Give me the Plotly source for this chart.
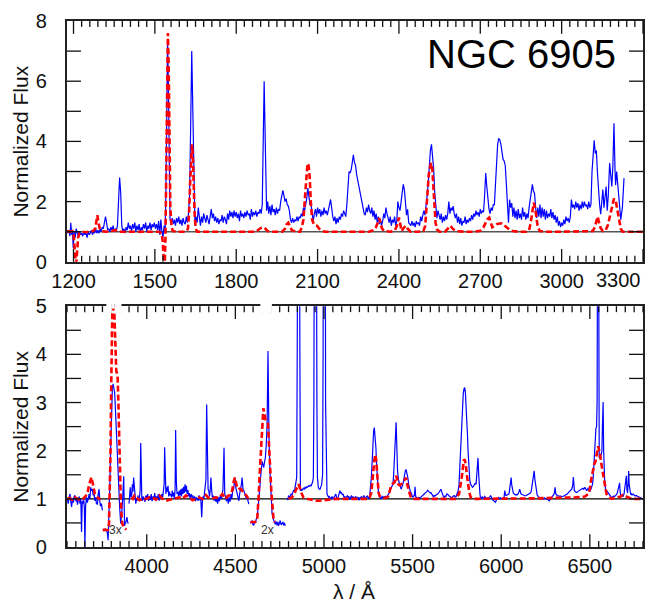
import plotly.graph_objects as go

# ---------------- data: top panel (UV) ----------------
TOP_BLUE = [
    (1178, 0.95), (1183, 1.05), (1187, 0.85), (1190, 1.3), (1193, 0.9), (1196, 1.05), (1199, 0.45),
    (1202, 1.0), (1206, 0.8), (1210, 1.1), (1214, 0.95), (1218, 0.85), (1222, 1.0), (1226, 0.9),
    (1230, 0.95), (1234, 0.85), (1238, 1.0), (1242, 0.9), (1246, 0.95), (1250, 0.8), (1254, 1.0),
    (1258, 0.9), (1262, 0.95), (1266, 1.05), (1270, 0.9), (1274, 1.0), (1278, 0.95), (1282, 1.1),
    (1286, 0.95), (1290, 1.05), (1294, 0.95), (1298, 1.1), (1302, 1.0), (1306, 1.15), (1310, 1.1),
    (1314, 1.3), (1318, 1.5), (1322, 1.3), (1326, 1.05), (1330, 1.1), (1334, 1.0), (1338, 1.15),
    (1342, 1.05), (1346, 1.2), (1350, 1.0), (1354, 1.1), (1358, 1.05), (1362, 1.2), (1366, 2.4),
    (1370, 2.8), (1374, 2.3), (1378, 1.2), (1382, 1.0), (1386, 1.1), (1390, 0.95), (1394, 1.15),
    (1398, 1.05), (1402, 1.3), (1406, 1.1), (1410, 1.2), (1414, 1.0), (1418, 1.25), (1422, 1.1),
    (1426, 1.3), (1430, 1.0), (1434, 1.2), (1438, 1.05), (1442, 1.25), (1446, 0.95), (1450, 1.15),
    (1454, 1.05), (1458, 1.25), (1462, 1.1), (1466, 1.3), (1470, 1.0), (1474, 1.2), (1478, 1.1),
    (1482, 1.3), (1486, 1.05), (1490, 1.25), (1494, 1.15), (1498, 1.3), (1502, 1.1), (1506, 1.25),
    (1510, 1.05), (1514, 1.35), (1518, 0.9), (1522, 1.4), (1526, 1.0), (1530, 0.8), (1534, 1.2),
    (1538, 1.0), (1541, 2.5), (1544, 5.5), (1547, 7.4), (1550, 5.8), (1553, 2.5), (1556, 1.4),
    (1560, 1.3), (1564, 1.45), (1568, 1.25), (1572, 1.4), (1576, 1.2), (1580, 1.45), (1584, 1.3),
    (1588, 1.5), (1592, 1.25), (1596, 1.4), (1600, 1.2), (1604, 1.45), (1608, 1.3), (1612, 1.25),
    (1616, 1.5), (1620, 1.3), (1624, 1.6), (1628, 2.2), (1632, 4.5), (1636, 7.0), (1640, 5.0),
    (1644, 2.3), (1648, 1.2), (1652, 1.5), (1656, 1.3), (1660, 1.8), (1664, 1.4), (1668, 1.2),
    (1672, 1.5), (1676, 1.3), (1680, 1.6), (1684, 1.4), (1688, 1.3), (1692, 1.55), (1696, 1.4),
    (1700, 1.25), (1704, 1.5), (1708, 1.75), (1712, 1.45), (1716, 1.6), (1720, 1.35), (1724, 1.5),
    (1728, 1.3), (1732, 1.45), (1736, 1.25), (1740, 1.4), (1744, 1.35), (1748, 1.55), (1752, 1.3),
    (1756, 1.5), (1760, 1.4), (1764, 1.25), (1768, 1.6), (1772, 1.4), (1776, 1.7), (1780, 1.5),
    (1784, 1.65), (1788, 1.45), (1792, 1.7), (1796, 1.5), (1800, 1.65), (1804, 1.45), (1808, 1.6),
    (1812, 1.35), (1816, 1.7), (1820, 1.5), (1824, 1.6), (1828, 1.45), (1832, 1.65), (1836, 1.5),
    (1840, 1.7), (1844, 1.55), (1848, 1.6), (1852, 1.4), (1856, 1.75), (1860, 1.5), (1864, 1.65),
    (1868, 1.55), (1872, 1.7), (1876, 1.5), (1880, 1.65), (1884, 1.6), (1888, 1.75), (1892, 1.6),
    (1896, 1.9), (1900, 3.7), (1903, 6.0), (1906, 4.5), (1909, 1.9), (1912, 1.7), (1916, 2.0),
    (1920, 1.6), (1924, 1.85), (1928, 1.55), (1932, 1.9), (1936, 1.65), (1940, 1.75), (1944, 1.55),
    (1948, 1.8), (1952, 1.6), (1956, 1.75), (1960, 1.7), (1964, 2.0), (1968, 2.15), (1972, 2.37),
    (1976, 2.2), (1980, 2.0), (1984, 2.1), (1988, 1.9), (1992, 1.85), (1996, 1.7), (2000, 1.4),
    (2004, 1.3), (2008, 1.45), (2012, 1.3), (2016, 1.4), (2020, 1.35), (2024, 1.5), (2028, 1.35),
    (2032, 1.5), (2036, 1.45), (2040, 1.6), (2044, 1.5), (2048, 1.8), (2052, 1.7), (2056, 1.9),
    (2060, 2.1), (2064, 2.45), (2068, 2.2), (2072, 1.9), (2076, 1.9), (2080, 1.6), (2084, 1.35),
    (2088, 1.6), (2092, 1.75), (2096, 1.5), (2100, 1.8), (2104, 1.6), (2108, 1.75), (2112, 1.5),
    (2116, 1.7), (2120, 1.55), (2124, 1.8), (2128, 1.6), (2132, 1.7), (2136, 1.55), (2140, 1.8),
    (2144, 1.9), (2148, 2.07), (2152, 1.7), (2156, 1.5), (2160, 1.35), (2164, 1.5), (2168, 1.25),
    (2172, 1.45), (2176, 1.3), (2180, 1.5), (2184, 1.4), (2188, 1.6), (2192, 1.5), (2196, 1.7),
    (2200, 1.6), (2204, 1.5), (2208, 1.9), (2212, 2.5), (2216, 3.0), (2220, 2.95), (2224, 3.06),
    (2228, 3.3), (2232, 3.55), (2236, 3.3), (2240, 3.2), (2244, 2.9), (2248, 2.7), (2252, 2.5),
    (2256, 2.3), (2260, 2.1), (2264, 1.9), (2268, 1.75), (2272, 1.6), (2276, 1.55), (2280, 1.8),
    (2284, 1.65), (2288, 1.9), (2292, 1.7), (2296, 1.6), (2300, 1.8), (2304, 1.5), (2308, 1.7),
    (2312, 1.4), (2316, 1.6), (2320, 1.3), (2324, 1.5), (2328, 1.25), (2332, 1.4), (2336, 1.2),
    (2340, 1.35), (2344, 1.6), (2348, 1.45), (2352, 1.8), (2356, 1.6), (2360, 1.4), (2364, 1.3),
    (2368, 1.5), (2372, 1.2), (2376, 1.4), (2380, 1.3), (2384, 1.5), (2388, 1.2), (2392, 1.35),
    (2396, 2.0), (2400, 1.8), (2404, 1.7), (2408, 2.0), (2412, 2.3), (2416, 2.57), (2420, 2.4),
    (2424, 2.0), (2428, 1.55), (2432, 1.74), (2436, 1.3), (2440, 1.25), (2444, 1.2), (2448, 1.35),
    (2452, 1.2), (2456, 1.3), (2460, 1.15), (2464, 1.35), (2468, 1.25), (2472, 1.3), (2476, 1.2),
    (2480, 1.5), (2484, 1.35), (2488, 1.55), (2492, 1.7), (2496, 1.55), (2500, 1.8), (2504, 2.2),
    (2508, 2.6), (2512, 3.3), (2516, 3.7), (2520, 3.9), (2524, 3.5), (2528, 3.1), (2532, 2.3),
    (2536, 1.9), (2540, 1.45), (2544, 1.7), (2548, 1.5), (2552, 1.4), (2556, 1.6), (2560, 1.3),
    (2564, 1.5), (2568, 1.35), (2572, 1.55), (2576, 1.4), (2580, 1.6), (2584, 2.0), (2588, 1.6),
    (2592, 1.8), (2596, 1.7), (2600, 1.85), (2604, 1.6), (2608, 1.45), (2612, 1.6), (2616, 1.3),
    (2620, 1.5), (2624, 1.25), (2628, 1.45), (2632, 1.2), (2636, 1.35), (2640, 1.3), (2644, 1.5),
    (2648, 1.25), (2652, 1.4), (2656, 1.3), (2660, 1.45), (2664, 1.35), (2668, 1.55), (2672, 1.4),
    (2676, 1.6), (2680, 1.5), (2684, 1.7), (2688, 1.55), (2692, 1.65), (2696, 1.5), (2700, 1.75),
    (2704, 1.6), (2708, 1.7), (2712, 1.65), (2716, 2.2), (2720, 2.95), (2724, 2.5), (2728, 2.0),
    (2732, 1.75), (2736, 1.6), (2740, 1.8), (2744, 1.7), (2748, 1.9), (2752, 1.9), (2756, 2.6),
    (2760, 3.44), (2764, 3.9), (2768, 4.1), (2772, 4.05), (2776, 3.9), (2780, 3.6), (2784, 3.4),
    (2788, 3.35), (2792, 3.2), (2796, 2.6), (2800, 1.8), (2804, 1.3), (2808, 2.07), (2812, 1.8),
    (2816, 1.95), (2820, 1.5), (2824, 1.8), (2828, 1.45), (2832, 1.7), (2836, 1.4), (2840, 1.75),
    (2844, 1.45), (2848, 1.6), (2852, 1.4), (2856, 1.8), (2860, 1.5), (2864, 1.65), (2868, 1.4),
    (2872, 1.6), (2876, 1.45), (2880, 1.8), (2884, 2.1), (2888, 2.4), (2892, 2.57), (2896, 2.35),
    (2900, 2.28), (2904, 1.8), (2908, 1.46), (2912, 1.8), (2916, 1.5), (2920, 1.9), (2924, 1.45),
    (2928, 1.8), (2932, 1.5), (2936, 1.75), (2940, 1.4), (2944, 1.7), (2948, 1.45), (2952, 1.6),
    (2956, 1.5), (2960, 1.75), (2964, 1.45), (2968, 1.65), (2972, 1.4), (2976, 1.55), (2980, 1.3),
    (2984, 1.5), (2988, 1.2), (2992, 1.35), (2996, 1.15), (3000, 1.3), (3004, 1.2), (3008, 1.4),
    (3012, 1.25), (3016, 1.5), (3020, 1.35), (3024, 1.45), (3028, 1.3), (3032, 1.5), (3036, 2.07),
    (3040, 1.8), (3044, 1.9), (3048, 1.75), (3052, 2.0), (3056, 1.8), (3060, 1.95), (3064, 1.7),
    (3068, 1.9), (3072, 1.75), (3076, 2.0), (3080, 1.8), (3084, 2.0), (3088, 1.85), (3092, 1.9),
    (3096, 1.75), (3100, 2.0), (3104, 1.8), (3108, 1.9), (3112, 3.0), (3116, 3.7), (3120, 4.04),
    (3124, 3.6), (3128, 3.7), (3132, 2.96), (3136, 2.2), (3140, 1.9), (3144, 1.58), (3148, 2.1),
    (3152, 2.4), (3156, 1.8), (3160, 2.1), (3164, 2.5), (3168, 1.7), (3172, 2.2), (3177, 3.28),
    (3181, 2.8), (3185, 2.5), (3189, 3.2), (3193, 4.6), (3197, 3.0), (3199, 2.55), (3203, 3.0),
    (3209, 2.45), (3213, 1.9), (3218, 1.4), (3224, 1.8), (3230, 2.78),
]

TOP_RED = [
    (1176, 1.02), (1188, 1.0), (1196, 1.02), (1201, 0.85), (1205, 0.35), (1209, -0.2), (1213, 0.3),
    (1217, 0.8), (1222, 0.95), (1230, 1.0), (1245, 0.98), (1260, 1.0), (1272, 1.02), (1280, 1.1),
    (1285, 1.35), (1288, 1.55), (1292, 1.3), (1297, 1.1), (1305, 1.02), (1320, 1.0), (1340, 1.02),
    (1355, 1.05), (1365, 1.0), (1380, 1.0), (1400, 1.02), (1430, 1.0), (1460, 1.0), (1490, 1.02),
    (1515, 1.0), (1525, 0.95), (1530, 0.6), (1533, -0.1), (1536, -0.3), (1539, 0.8), (1542, 3.0),
    (1545, 6.0), (1548, 7.6), (1551, 6.5), (1554, 3.5), (1557, 1.8), (1561, 1.2), (1566, 1.02),
    (1580, 1.0), (1600, 1.0), (1615, 1.0), (1622, 1.1), (1626, 1.6), (1630, 2.6), (1634, 3.5),
    (1637, 3.9), (1640, 3.5), (1643, 2.5), (1647, 1.5), (1651, 1.1), (1656, 1.0), (1680, 1.0),
    (1720, 1.0), (1760, 1.0), (1800, 1.0), (1840, 1.0), (1870, 1.0), (1880, 1.05), (1890, 1.12),
    (1900, 1.15), (1908, 1.1), (1915, 1.02), (1930, 1.0), (1950, 1.0), (1970, 1.0), (1980, 1.1),
    (1986, 1.25), (1992, 1.3), (1998, 1.2), (2005, 1.05), (2020, 1.0), (2035, 1.0), (2042, 1.15),
    (2048, 1.4), (2054, 2.2), (2058, 2.8), (2063, 3.27), (2067, 3.2), (2071, 2.8), (2075, 2.0),
    (2080, 1.4), (2086, 1.25), (2092, 1.22), (2098, 1.2), (2106, 1.1), (2114, 1.05), (2125, 1.0),
    (2150, 1.0), (2200, 1.0), (2250, 1.0), (2290, 1.0), (2305, 1.05), (2315, 1.15), (2322, 1.3),
    (2327, 1.45), (2332, 1.3), (2337, 1.12), (2345, 1.02), (2370, 1.0), (2385, 1.05), (2393, 1.2),
    (2400, 1.47), (2405, 1.2), (2410, 1.02), (2419, 1.14), (2425, 1.2), (2432, 1.1), (2443, 1.0),
    (2470, 1.0), (2490, 1.02), (2497, 1.2), (2504, 2.1), (2510, 2.9), (2516, 3.2), (2519, 3.28),
    (2523, 3.1), (2527, 2.6), (2531, 1.9), (2535, 1.3), (2540, 1.08), (2550, 1.0), (2570, 1.0),
    (2582, 1.1), (2590, 1.2), (2598, 1.1), (2610, 1.02), (2640, 1.0), (2680, 1.0), (2700, 1.03),
    (2712, 1.15), (2720, 1.3), (2726, 1.41), (2733, 1.47), (2738, 1.3), (2744, 1.15), (2752, 1.2),
    (2760, 1.25), (2770, 1.27), (2780, 1.27), (2790, 1.2), (2800, 1.12), (2810, 1.05), (2820, 1.02),
    (2840, 1.0), (2870, 1.0), (2880, 1.05), (2886, 1.3), (2891, 1.7), (2897, 1.96), (2902, 1.8),
    (2907, 1.5), (2912, 1.15), (2920, 1.02), (2940, 1.0), (3000, 1.0), (3060, 1.0), (3100, 1.0),
    (3115, 1.02), (3122, 1.15), (3127, 1.3), (3133, 1.5), (3138, 1.3), (3144, 1.12), (3152, 1.02),
    (3162, 1.05), (3170, 1.2), (3178, 1.5), (3186, 1.9), (3193, 2.1), (3200, 2.0), (3206, 1.7),
    (3212, 1.3), (3218, 1.1), (3225, 1.0), (3250, 1.0), (3300, 1.0),
]

# ---------------- data: bottom panel (optical), separate segments ----------------
BOT_BLUE_SEGMENTS = [
    [(3552, 1.0), (3557, 0.9), (3562, 1.03), (3567, 1.1), (3571, 0.95), (3576, 0.83), (3581, 1.0),
     (3586, 0.92), (3590, 1.05), (3595, 1.07), (3600, 0.95), (3605, 1.0), (3609, 0.88), (3614, 0.96),
     (3619, 1.05), (3623, 0.9), (3628, 1.0), (3632, 0.31), (3636, 0.95), (3640, 0.9), (3644, 1.03),
     (3648, 0.8), (3651, 0.0), (3655, 0.85), (3660, 1.03), (3665, 0.92), (3670, 1.05), (3675, 1.1),
     (3679, 1.0), (3684, 1.24), (3688, 1.17), (3693, 1.2), (3698, 1.07), (3703, 1.1), (3707, 0.96),
     (3712, 1.03), (3716, 0.9), (3722, 0.89), (3726, 1.1), (3731, 1.2), (3735, 0.95), (3739, 0.85),
     (3744, 0.9), (3750, 0.76)],
    [(3752, 0.35), (3758, 0.36), (3763, 0.34), (3768, 0.37), (3772, 0.35), (3777, 0.3), (3782, 0.14),
     (3787, 0.55), (3791, 1.2), (3795, 1.85), (3799, 2.5), (3802, 3.0), (3806, 3.3), (3810, 3.39),
     (3814, 3.3), (3819, 3.2), (3824, 2.8), (3828, 2.4), (3833, 1.9), (3838, 1.44), (3843, 1.1),
     (3847, 0.83), (3853, 0.49), (3857, 0.6), (3860, 0.76), (3864, 1.0), (3868, 1.3), (3870, 1.47),
     (3873, 0.8), (3875, 0.44), (3878, 0.5), (3881, 0.49), (3885, 0.58), (3888, 0.62), (3892, 0.52),
     (3896, 0.49)],
    [(3900, 0.9), (3904, 1.1), (3907, 1.24), (3911, 1.03), (3915, 1.07), (3919, 1.3), (3922, 1.15),
     (3926, 1.44), (3930, 1.2), (3934, 0.96), (3938, 0.9), (3942, 1.0), (3946, 0.96), (3950, 1.07),
     (3954, 1.0), (3959, 1.03), (3963, 1.2), (3966, 2.16), (3969, 1.3), (3972, 1.03), (3976, 0.96),
     (3980, 1.05), (3985, 1.0), (3990, 0.94), (3995, 1.07), (4000, 1.0), (4005, 1.1), (4010, 0.96),
     (4015, 1.05), (4020, 0.98), (4025, 1.1), (4030, 0.95), (4035, 1.05), (4040, 1.0), (4045, 1.12),
     (4050, 0.97), (4055, 1.05), (4060, 1.0), (4065, 1.1), (4070, 0.96), (4075, 1.06), (4080, 1.0),
     (4085, 1.1), (4090, 1.04), (4095, 1.2), (4098, 1.3), (4101, 2.07), (4104, 1.25), (4108, 1.1),
     (4112, 1.24), (4116, 1.15), (4120, 1.27), (4124, 1.05), (4128, 1.15), (4132, 1.07), (4136, 1.1),
     (4140, 1.03), (4144, 1.17), (4148, 1.05), (4152, 1.13), (4156, 1.0), (4160, 1.2), (4163, 2.43),
     (4167, 1.35), (4171, 1.1), (4175, 1.14), (4180, 1.05), (4184, 1.17), (4188, 1.07), (4192, 1.2),
     (4196, 1.05), (4200, 1.22), (4204, 1.1), (4208, 1.25), (4212, 1.12), (4216, 1.3), (4220, 1.15),
     (4224, 1.27), (4228, 1.1), (4232, 1.18), (4236, 1.05), (4240, 1.12), (4245, 1.0), (4250, 1.1),
     (4255, 1.03), (4260, 1.07), (4265, 0.97), (4270, 1.05), (4275, 0.95), (4280, 1.03), (4285, 1.0),
     (4290, 0.96), (4295, 1.07), (4300, 0.97), (4305, 1.0), (4310, 0.62), (4314, 0.95), (4318, 1.05),
     (4322, 1.0), (4326, 1.1), (4330, 1.24), (4334, 1.4), (4338, 2.96), (4342, 1.5), (4346, 1.2),
     (4350, 1.17), (4354, 1.05), (4358, 1.17), (4362, 1.44), (4366, 1.2), (4370, 1.03), (4375, 1.07),
     (4380, 0.96), (4385, 1.05), (4390, 0.94), (4395, 1.0), (4400, 0.9), (4405, 1.03), (4410, 0.95),
     (4415, 1.07), (4420, 1.0), (4425, 1.05), (4430, 1.2), (4436, 2.06), (4440, 1.1), (4445, 1.03),
     (4450, 0.95), (4455, 1.07), (4460, 0.9), (4465, 1.03), (4470, 0.94), (4475, 1.1), (4480, 1.0),
     (4485, 1.17), (4490, 1.2), (4495, 1.35), (4498, 1.44), (4502, 1.24), (4506, 1.17), (4510, 1.07),
     (4515, 1.0), (4520, 0.96), (4524, 1.1), (4529, 1.17), (4534, 1.3), (4538, 1.44), (4543, 1.2),
     (4548, 1.17), (4553, 1.1), (4557, 1.07), (4562, 1.0), (4566, 1.03), (4571, 0.95), (4576, 0.89)],
    [(4585, 0.49), (4590, 0.52), (4595, 0.55), (4599, 0.47), (4604, 0.45), (4608, 0.52), (4613, 0.5),
     (4618, 0.58), (4623, 0.62), (4628, 0.8), (4632, 1.03), (4636, 1.2), (4641, 1.44), (4646, 1.6),
     (4651, 1.78), (4655, 1.7), (4660, 1.65), (4664, 1.75), (4669, 1.85), (4674, 2.1), (4679, 2.53),
     (4684, 4.07), (4688, 2.6), (4690, 2.19), (4695, 1.6), (4699, 1.2), (4703, 0.85), (4707, 0.7),
     (4712, 0.6), (4716, 0.55), (4720, 0.5), (4725, 0.47), (4730, 0.53), (4735, 0.45), (4740, 0.52),
     (4744, 0.44), (4749, 0.5), (4753, 0.55), (4758, 0.46), (4763, 0.49), (4768, 0.52), (4772, 0.45),
     (4777, 0.5), (4781, 0.44)],
    [(4791, 1.0), (4796, 0.98), (4800, 1.07), (4805, 1.03), (4809, 1.05), (4814, 1.1), (4819, 1.08),
     (4824, 1.13), (4828, 1.17), (4833, 1.15), (4837, 1.24), (4842, 1.3), (4846, 1.44), (4849, 4.0),
     (4851, 8.0), (4856, 12.0), (4861, 8.0), (4864, 4.0), (4867, 1.17), (4871, 1.2), (4875, 1.17),
     (4880, 1.2), (4884, 1.22), (4889, 1.2), (4893, 1.24), (4898, 1.22), (4903, 1.25), (4908, 1.24),
     (4912, 1.27), (4917, 1.26), (4922, 1.28), (4927, 1.27), (4931, 1.3), (4936, 1.35), (4940, 1.44),
     (4943, 3.0), (4946, 8.0), (4952, 14.0), (4957, 8.0), (4960, 3.0), (4963, 1.44), (4968, 1.24),
     (4973, 1.2), (4978, 1.2), (4983, 1.25), (4987, 1.3), (4992, 1.5), (4995, 4.0), (4998, 12.0),
     (5002, 25.0), (5006, 12.0), (5009, 3.0), (5013, 1.3), (5017, 1.1), (5021, 1.07), (5026, 1.03),
     (5030, 1.05), (5034, 1.03), (5040, 1.0), (5046, 1.05), (5052, 1.0), (5057, 1.03), (5062, 1.07),
     (5067, 1.1), (5071, 1.03), (5076, 1.0), (5081, 1.05), (5086, 1.1), (5090, 1.17), (5095, 1.12),
     (5099, 1.13), (5104, 1.08), (5108, 1.1), (5113, 1.03), (5118, 1.05), (5122, 1.0), (5127, 1.03),
     (5132, 1.07), (5136, 1.03), (5141, 1.05), (5146, 0.98), (5150, 1.03), (5155, 1.07), (5160, 1.0),
     (5164, 1.04), (5169, 1.03), (5174, 0.98), (5178, 1.05), (5183, 1.02), (5188, 1.0), (5192, 1.04),
     (5197, 0.97), (5202, 1.03), (5206, 1.0), (5211, 1.05), (5216, 1.02), (5220, 1.0), (5225, 1.07),
     (5230, 1.03), (5234, 1.0), (5239, 1.04), (5244, 1.06), (5248, 1.03), (5253, 1.0), (5258, 1.07),
     (5262, 1.2), (5267, 1.44), (5271, 1.7), (5275, 2.12), (5280, 2.4), (5284, 2.48), (5288, 2.3),
     (5293, 2.06), (5297, 1.7), (5301, 1.37), (5305, 1.15), (5308, 1.1), (5313, 1.04), (5318, 1.03),
     (5323, 1.0), (5328, 1.05), (5333, 1.03), (5338, 1.04), (5342, 1.0), (5347, 1.06), (5352, 1.03),
     (5356, 1.05), (5361, 1.07), (5366, 1.1), (5370, 1.13), (5375, 1.2), (5379, 1.24), (5384, 1.27),
     (5389, 1.3), (5393, 1.5), (5398, 1.78), (5402, 2.2), (5407, 2.59), (5411, 2.0), (5415, 1.58),
     (5420, 1.4), (5426, 1.3), (5430, 1.25), (5435, 1.2), (5440, 1.25), (5445, 1.3), (5450, 1.4),
     (5454, 1.51), (5459, 1.58), (5463, 1.61), (5468, 1.55), (5473, 1.44), (5478, 1.3), (5482, 1.2),
     (5487, 1.15), (5491, 1.13), (5496, 1.08), (5501, 1.03), (5505, 1.05), (5510, 1.08), (5514, 1.25),
     (5517, 1.05), (5522, 1.03), (5528, 1.0), (5533, 1.03), (5538, 1.03), (5543, 1.02), (5548, 1.04),
     (5552, 1.05), (5557, 1.07), (5562, 1.08), (5566, 1.1), (5570, 1.12), (5575, 1.13), (5580, 1.15),
     (5585, 1.18), (5590, 1.16), (5594, 1.13), (5599, 1.12), (5603, 1.13), (5608, 1.1), (5613, 1.06),
     (5618, 1.04), (5622, 1.07), (5627, 1.06), (5632, 1.08), (5636, 1.1), (5641, 1.1), (5646, 1.12),
     (5650, 1.15), (5655, 1.18), (5660, 1.2), (5664, 1.15), (5669, 1.07), (5674, 1.05), (5678, 1.03),
     (5683, 1.06), (5688, 1.05), (5692, 1.1), (5697, 1.1), (5702, 1.07), (5706, 1.06), (5711, 1.05),
     (5716, 1.03), (5720, 1.02), (5725, 1.04), (5729, 1.05), (5734, 1.07), (5739, 1.05), (5744, 1.03),
     (5748, 1.08), (5753, 1.12), (5757, 1.17), (5762, 1.3), (5768, 1.78), (5773, 2.3), (5777, 2.7),
     (5781, 3.01), (5786, 3.2), (5790, 3.28), (5794, 3.31), (5798, 3.2), (5801, 3.01), (5805, 2.7),
     (5810, 2.3), (5813, 1.99), (5818, 1.6), (5823, 1.37), (5828, 1.3), (5833, 1.26), (5838, 1.24),
     (5843, 1.26), (5848, 1.3), (5853, 1.32), (5858, 1.3), (5862, 1.45), (5866, 1.7), (5869, 1.85),
     (5873, 1.5), (5876, 1.24), (5880, 1.1), (5884, 1.0), (5889, 1.02), (5893, 1.04), (5898, 1.0),
     (5902, 1.03), (5907, 1.05), (5912, 1.02), (5917, 0.98), (5921, 1.02), (5926, 1.0), (5931, 1.03),
     (5936, 1.04), (5940, 1.07), (5945, 1.0), (5949, 1.0), (5954, 0.97), (5958, 0.96), (5963, 0.94),
     (5968, 0.93), (5972, 0.97), (5977, 1.0), (5982, 1.02), (5986, 1.03), (5991, 1.0), (5996, 1.02),
     (6001, 1.0), (6005, 1.0), (6010, 1.01), (6016, 1.03), (6020, 1.17), (6024, 1.08), (6028, 1.07),
     (6033, 1.08), (6038, 1.09), (6043, 1.1), (6046, 1.15), (6050, 1.24), (6053, 1.35), (6056, 1.44),
     (6059, 1.3), (6063, 1.17), (6068, 1.12), (6074, 1.1), (6080, 1.08), (6085, 1.09), (6089, 1.08),
     (6094, 1.1), (6099, 1.13), (6104, 1.2), (6108, 1.12), (6112, 1.1), (6118, 1.09), (6122, 1.08),
     (6127, 1.08), (6131, 1.07), (6136, 1.06), (6141, 1.07), (6146, 1.08), (6151, 1.08), (6156, 1.1),
     (6160, 1.1), (6164, 1.12), (6169, 1.15), (6173, 1.24), (6177, 1.35), (6181, 1.47), (6186, 1.58),
     (6190, 1.4), (6194, 1.3), (6198, 1.15), (6203, 1.08), (6208, 1.05), (6213, 1.03), (6220, 1.02),
     (6226, 1.03), (6232, 1.0), (6239, 1.0), (6245, 1.02), (6251, 1.0), (6257, 1.0), (6264, 0.98),
     (6271, 0.96), (6278, 1.0), (6285, 1.03), (6290, 1.06), (6295, 1.08), (6300, 1.12), (6304, 1.24),
     (6308, 1.1), (6312, 1.08), (6318, 1.06), (6323, 1.06), (6330, 1.05), (6336, 1.06), (6342, 1.04),
     (6348, 1.05), (6354, 1.06), (6360, 1.08), (6366, 1.08), (6372, 1.1), (6379, 1.13), (6386, 1.15),
     (6394, 1.17), (6398, 1.2), (6401, 1.24), (6404, 1.3), (6407, 1.45), (6410, 1.2), (6413, 1.17),
     (6420, 1.14), (6426, 1.13), (6432, 1.15), (6439, 1.17), (6446, 1.18), (6454, 1.2), (6460, 1.22),
     (6466, 1.2), (6472, 1.24), (6478, 1.2), (6482, 1.17), (6487, 1.2), (6491, 1.22), (6496, 1.18),
     (6500, 1.15), (6506, 1.2), (6510, 1.24), (6515, 1.3), (6519, 1.44), (6524, 1.7), (6528, 1.99),
     (6532, 2.3), (6534, 2.46), (6538, 2.5), (6541, 3.0), (6544, 6.0), (6547, 12.0), (6550, 6.0),
     (6553, 1.85), (6556, 1.9), (6560, 1.85), (6564, 1.95), (6568, 1.99), (6571, 2.5), (6575, 3.01),
     (6578, 2.0), (6581, 1.58), (6584, 1.35), (6589, 1.2), (6594, 1.17), (6598, 1.14), (6603, 1.13),
     (6607, 1.1), (6612, 1.08), (6618, 1.05), (6622, 1.04), (6627, 1.03), (6631, 1.05), (6636, 1.06),
     (6640, 1.05), (6644, 1.06), (6649, 1.08), (6655, 1.12), (6659, 1.2), (6664, 1.3), (6668, 1.33),
     (6671, 1.15), (6674, 1.08), (6680, 1.06), (6687, 1.05), (6693, 1.1), (6700, 1.28), (6703, 1.35),
     (6706, 1.48), (6709, 1.2), (6713, 1.12), (6716, 1.3), (6719, 1.58), (6722, 1.3), (6726, 1.12),
     (6730, 1.1), (6734, 1.11), (6738, 1.08), (6744, 1.1), (6750, 1.08), (6756, 1.06), (6762, 1.07),
     (6768, 1.05), (6775, 1.04), (6781, 1.03), (6788, 1.02), (6794, 1.0), (6800, 1.0)],
]

BOT_RED_SEGMENTS = [
    [(3552, 1.0), (3565, 1.02), (3580, 0.98), (3595, 1.03), (3610, 1.0), (3625, 0.97), (3640, 1.0),
     (3655, 1.05), (3665, 1.1), (3675, 1.3), (3682, 1.42), (3688, 1.45), (3694, 1.35), (3700, 1.2),
     (3707, 1.1), (3713, 1.07), (3722, 1.03), (3731, 1.0), (3739, 1.0)],
    [(3752, 0.35), (3765, 0.36), (3775, 0.35), (3782, 0.36), (3787, 0.49), (3791, 1.0), (3795, 1.85),
     (3799, 3.2), (3802, 3.9), (3806, 5.2), (3810, 6.0), (3814, 5.2), (3819, 4.58), (3824, 4.0),
     (3828, 3.66), (3832, 3.6), (3836, 3.5), (3840, 3.0), (3843, 2.4), (3848, 1.6), (3853, 1.03),
     (3857, 0.7), (3862, 0.49), (3868, 0.42), (3875, 0.4), (3880, 0.37), (3885, 0.36)],
    [(3913, 1.03), (3922, 1.0), (3931, 1.07), (3945, 1.02), (3959, 0.97), (3978, 1.0), (3997, 1.0),
     (4015, 1.03), (4034, 1.03), (4052, 0.98), (4071, 1.07), (4090, 1.0), (4109, 0.96), (4128, 0.98),
     (4146, 1.0), (4165, 1.02), (4183, 1.03), (4202, 1.0), (4221, 1.07), (4240, 1.03), (4258, 0.97),
     (4277, 1.0), (4296, 1.03), (4315, 1.0), (4333, 1.08), (4350, 1.02), (4370, 1.0), (4389, 1.03),
     (4408, 1.02), (4426, 1.1), (4436, 1.03), (4445, 1.0), (4454, 1.05), (4464, 1.07), (4473, 1.12),
     (4482, 1.17), (4490, 1.35), (4497, 1.44), (4503, 1.35), (4510, 1.24), (4517, 1.2), (4524, 1.21),
     (4531, 1.2), (4538, 1.17), (4548, 1.12), (4557, 1.1), (4566, 1.05), (4572, 1.0)],
    [(4585, 0.52), (4600, 0.52), (4613, 0.52), (4623, 0.55), (4628, 0.76), (4632, 1.1), (4636, 1.44),
     (4641, 1.75), (4645, 1.99), (4649, 2.4), (4652, 2.67), (4656, 2.85), (4658, 2.88), (4662, 2.8),
     (4666, 2.67), (4670, 2.65), (4673, 2.62), (4679, 2.6), (4684, 2.55), (4688, 2.3), (4692, 2.12),
     (4695, 1.8), (4699, 1.44), (4703, 1.15), (4707, 0.9), (4712, 0.7), (4716, 0.55), (4720, 0.53),
     (4725, 0.52)],
    [(4800, 1.0), (4815, 1.02), (4828, 1.07), (4838, 1.15), (4847, 1.24), (4856, 1.3), (4862, 1.25),
     (4867, 1.17), (4875, 1.1), (4884, 1.03), (4900, 1.0), (4920, 0.99), (4940, 0.97), (4955, 0.96),
     (4970, 0.96), (4990, 0.97), (5010, 0.98), (5040, 1.0), (5070, 1.0), (5100, 1.0), (5136, 1.0),
     (5180, 1.0), (5211, 1.0), (5240, 1.0), (5258, 1.03), (5267, 1.13), (5274, 1.4), (5278, 1.58),
     (5284, 1.8), (5290, 1.92), (5295, 1.8), (5299, 1.58), (5304, 1.35), (5308, 1.13), (5315, 1.05),
     (5323, 1.03), (5340, 1.02), (5351, 1.02), (5362, 1.05), (5370, 1.17), (5379, 1.27), (5389, 1.32),
     (5398, 1.34), (5403, 1.4), (5407, 1.48), (5412, 1.42), (5420, 1.3), (5428, 1.28), (5435, 1.3),
     (5443, 1.33), (5450, 1.37), (5456, 1.42), (5463, 1.44), (5470, 1.3), (5476, 1.2), (5484, 1.1),
     (5491, 1.03), (5500, 1.02), (5510, 1.0), (5550, 1.0), (5600, 1.0), (5650, 1.0), (5700, 1.0),
     (5740, 1.0), (5762, 1.1), (5772, 1.3), (5777, 1.44), (5784, 1.65), (5790, 1.82), (5795, 1.8),
     (5800, 1.72), (5806, 1.5), (5813, 1.3), (5820, 1.13), (5828, 1.03), (5840, 1.0), (5870, 1.0),
     (5900, 1.0), (5950, 1.0), (6000, 1.0), (6100, 1.0), (6200, 1.01), (6300, 1.02), (6360, 1.02),
     (6420, 1.03), (6454, 1.04), (6472, 1.05), (6491, 1.1), (6500, 1.2), (6506, 1.37), (6512, 1.5),
     (6519, 1.65), (6525, 1.72), (6532, 1.78), (6540, 1.95), (6547, 2.09), (6553, 2.0), (6558, 1.92),
     (6564, 1.75), (6571, 1.58), (6578, 1.4), (6584, 1.24), (6594, 1.1), (6603, 1.05), (6622, 1.0),
     (6640, 1.02), (6660, 1.03), (6674, 1.05), (6687, 1.08), (6700, 1.06), (6713, 1.03), (6734, 1.0),
     (6760, 1.0), (6800, 1.0)],
]

TOP_XTICKS = [1200, 1500, 1800, 2100, 2400, 2700, 3000, 3300]
BOT_XTICKS = [4000, 4500, 5000, 5500, 6000, 6500]
TOP_RANGE = [1176, 3300]
BOT_RANGE = [3550, 6800]
TOP_YRANGE = [0, 8]
BOT_YRANGE = [0, 5]
UNIT_LEVEL = 1.0
TITLE_TEXT = "NGC 6905"
SCALE_LABELS = [("3x", 3822, 0.35), ("2x", 4682, 0.35)]

# ---------------- helpers ----------------
def split(pairs):
    return [p[0] for p in pairs], [p[1] for p in pairs]

def join(segments):
    xs, ys = [], []
    for seg in segments:
        a, b = split(seg)
        if xs:
            xs.append(None)
            ys.append(None)
        xs += a
        ys += b
    return xs, ys

FONT = "Liberation Sans, Arial, sans-serif"
BLUE = "#0000ff"
RED = "#ff0000"
TICKC = "#111"
PLOT_W = 578.0
PLOT_H = 244.0

# geometry in pixels (figure 655 x 602, margins l=67 r=10 t=14 b=55)
L_PX, R_PX = 67.0, 645.0
TOP_T, TOP_B = 14.0, 258.0
BOT_T, BOT_B = 303.0, 547.0
FIG_W, FIG_H = 655.0, 602.0

def paper_x(px):
    return (px - L_PX) / (R_PX - L_PX)

def paper_y(py_):
    return (BOT_B - py_) / (BOT_B - TOP_T)

def tick_shapes(xr, top_px, bot_px, xmajor, xminor_step, xminor_start, yr, ymarks):
    """Inside tick marks on all four frame sides, as paper-referenced line shapes."""
    shapes = []
    style = dict(color=TICKC, width=1.3)
    v = xminor_start
    while v <= xr[1] + 1e-9:
        L = 13 if v in xmajor else 6
        px = L_PX + (v - xr[0]) / (xr[1] - xr[0]) * (R_PX - L_PX)
        xp = paper_x(px)
        shapes.append(dict(type="line", xref="paper", yref="paper", x0=xp, x1=xp,
                           y0=paper_y(bot_px), y1=paper_y(bot_px - L), line=style, layer="above"))
        shapes.append(dict(type="line", xref="paper", yref="paper", x0=xp, x1=xp,
                           y0=paper_y(top_px), y1=paper_y(top_px + L), line=style, layer="above"))
        v += xminor_step
    for yv in ymarks:
        pyy = bot_px - (yv - yr[0]) / (yr[1] - yr[0]) * (bot_px - top_px)
        yp = paper_y(pyy)
        shapes.append(dict(type="line", xref="paper", yref="paper", x0=paper_x(L_PX),
                           x1=paper_x(L_PX + 14), y0=yp, y1=yp, line=style, layer="above"))
        shapes.append(dict(type="line", xref="paper", yref="paper", x0=paper_x(R_PX - 14),
                           x1=paper_x(R_PX), y0=yp, y1=yp, line=style, layer="above"))
    return shapes

fig = go.Figure()

tbx, tby = split(TOP_BLUE)
trx, try_ = split(TOP_RED)
bbx, bby = join(BOT_BLUE_SEGMENTS)
brx, bry = join(BOT_RED_SEGMENTS)

# unit-flux reference lines (drawn first, underneath the spectra)
fig.add_trace(go.Scatter(x=TOP_RANGE, y=[UNIT_LEVEL, UNIT_LEVEL], mode="lines",
                         line=dict(color="#555", width=1.5), xaxis="x", yaxis="y",
                         showlegend=False, hoverinfo="skip"))
fig.add_trace(go.Scatter(x=BOT_RANGE, y=[UNIT_LEVEL, UNIT_LEVEL], mode="lines",
                         line=dict(color="#000", width=1.2), xaxis="x2", yaxis="y2",
                         showlegend=False, hoverinfo="skip"))

fig.add_trace(go.Scatter(x=tbx, y=tby, mode="lines", line=dict(color=BLUE, width=1.2),
                         xaxis="x", yaxis="y", showlegend=False))
fig.add_trace(go.Scatter(x=trx, y=try_, mode="lines", line=dict(color=RED, width=2.6, dash="6px,3px"),
                         xaxis="x", yaxis="y", showlegend=False))
fig.add_trace(go.Scatter(x=bbx, y=bby, mode="lines", line=dict(color=BLUE, width=1.2),
                         xaxis="x2", yaxis="y2", showlegend=False, connectgaps=False))
fig.add_trace(go.Scatter(x=brx, y=bry, mode="lines", line=dict(color=RED, width=2.6, dash="6px,3px"),
                         xaxis="x2", yaxis="y2", showlegend=False, connectgaps=False))

axis_common = dict(
    showline=True, linewidth=2, linecolor="#222", mirror=True,
    ticks="", showgrid=False, zeroline=False,
    tickfont=dict(family=FONT, size=20, color="#111"),
)
YSUFFIX = "\u2002\u2009"   # pushes y tick labels away from the axis

top_dom = [(533 - 244) / 533, 1.0]
bot_dom = [0.0, 244 / 533]

fig.update_layout(
    width=655, height=602, autosize=False,
    margin=dict(l=67, r=10, t=14, b=55),
    paper_bgcolor="white", plot_bgcolor="white",
    xaxis=dict(axis_common, domain=[0, 1], range=TOP_RANGE, anchor="y",
               tickmode="array", tickvals=TOP_XTICKS,
               ticktext=[str(v) for v in TOP_XTICKS[:-1]] + [""]),
    yaxis=dict(axis_common, domain=top_dom, range=TOP_YRANGE, anchor="x",
               tickmode="linear", tick0=0, dtick=2, ticksuffix=YSUFFIX),
    xaxis2=dict(axis_common, domain=[0, 1], range=BOT_RANGE, anchor="y2",
                tickmode="array", tickvals=BOT_XTICKS),
    yaxis2=dict(axis_common, domain=bot_dom, range=BOT_YRANGE, anchor="x2",
                tickmode="linear", tick0=0, dtick=1, ticksuffix=YSUFFIX),
)

shapes = []
shapes += tick_shapes(TOP_RANGE, TOP_T, TOP_B, set(TOP_XTICKS), 30, 1200,
                      TOP_YRANGE, [1, 2, 3, 4, 5, 6, 7])
shapes += tick_shapes(BOT_RANGE, BOT_T, BOT_B, set(BOT_XTICKS), 50, 3550,
                      BOT_YRANGE, [0.5, 1, 1.5, 2, 2.5, 3, 3.5, 4, 4.5])

# gaps in the top frame of the lower panel (scaled segments)
def gap_px(lam):
    return L_PX + (lam - BOT_RANGE[0]) / (BOT_RANGE[1] - BOT_RANGE[0]) * (R_PX - L_PX)

for x0, x1, ytop, ybot in [(3772, 3803, 296, 309.5),
                           (3803, 3818, 296, 305.5),
                           (3818, 3857, 296, 309.5),
                           (4641, 4706, 296, 309.5)]:
    shapes.append(dict(type="rect", xref="paper", yref="paper",
                       x0=paper_x(gap_px(x0)), x1=paper_x(gap_px(x1)),
                       y0=paper_y(ybot), y1=paper_y(ytop),
                       fillcolor="white", line=dict(width=0), layer="above"))

fig.update_layout(shapes=shapes)

C = dict(showarrow=False, xanchor="center", yanchor="middle")
ann = []
ann.append(dict(C, text=TITLE_TEXT, xref="x", yref="y", x=2852, y=6.9,
                font=dict(family=FONT, size=40, color="black")))
ann.append(dict(C, text="3300", xref="paper", yref="paper", x=paper_x(620), y=paper_y(276),
                font=dict(family=FONT, size=20, color="#111")))
ann.append(dict(C, text="Normalized Flux", xref="paper", yref="paper", x=paper_x(20), y=paper_y(136),
                textangle=-90, font=dict(family=FONT, size=21, color="#111")))
ann.append(dict(C, text="Normalized Flux", xref="paper", yref="paper", x=paper_x(20), y=paper_y(425),
                textangle=-90, font=dict(family=FONT, size=21, color="#111")))
ann.append(dict(C, text="λ / Å", xref="paper", yref="paper", x=paper_x(355), y=paper_y(592),
                font=dict(family=FONT, size=21, color="#111")))
for t, xv, yv in SCALE_LABELS:
    ann.append(dict(C, text=t, xref="x2", yref="y2", x=xv, y=yv,
                    font=dict(family=FONT, size=12, color="#333")))
fig.update_layout(annotations=ann)

fig.write_html("out.html")
